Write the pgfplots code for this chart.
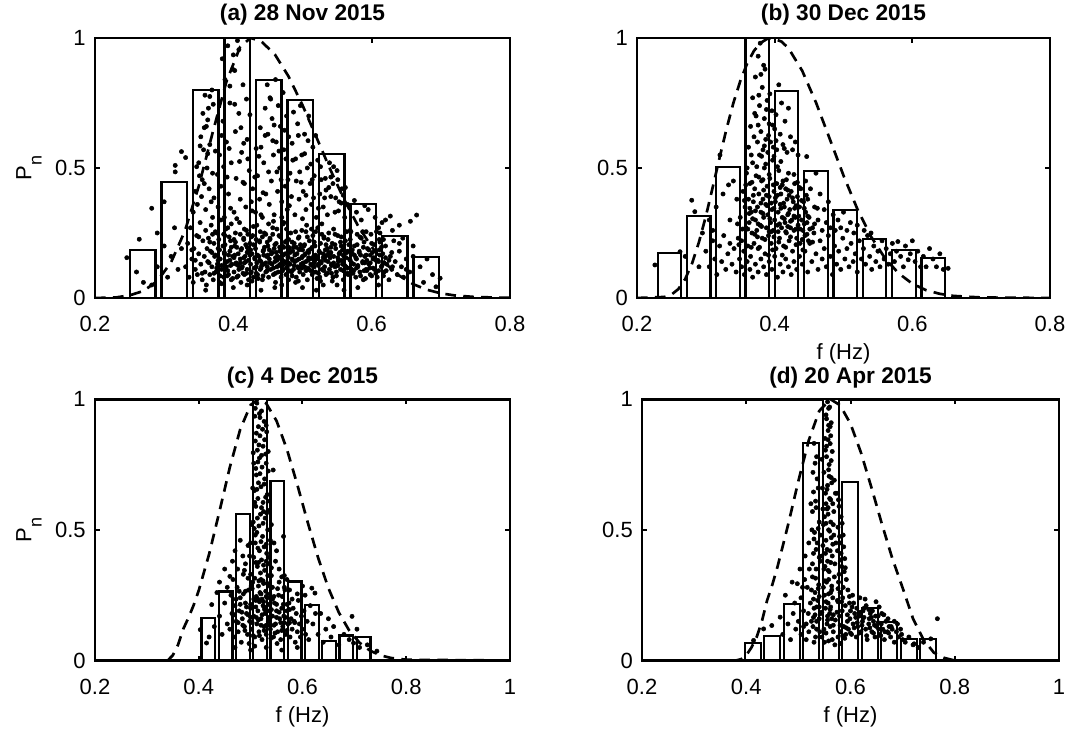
\documentclass[border=0pt]{standalone}
\usepackage{fontspec}
\setmainfont{Liberation Sans}
\usepackage{pgfplots}
\pgfplotsset{compat=1.18}
\pgfplotsset{
  myax/.style={
    scale only axis, anchor=south west,
    xmin=0.2, ymin=0, ymax=1,
    ytick={0,0.5,1}, yticklabels={0,0.5,1},
    tick align=inside, major tick length=3.5pt,
    axis line style={line width=2pt},
    every tick/.style={black, line width=1.5pt},
    tick label style={font=\fontsize{16.5}{18}\selectfont},
    xticklabel style={anchor=base, yshift=-25.5pt, inner sep=0pt},
    yticklabel style={anchor=east, xshift=-6.75pt, inner sep=0pt},
    every axis title/.style={font=\bfseries\fontsize{17}{19}\selectfont, at={(axis description cs:0.5,1)}, anchor=base, yshift=13pt, inner sep=0pt},
    every axis y label/.style={font=\fontsize{16.5}{18}\selectfont, at={(axis description cs:-0.159,0.5)}, anchor=center, rotate=90},
    every axis x label/.style={font=\fontsize{16.5}{18}\selectfont, at={(axis description cs:0.5,-0.215)}, anchor=center, inner sep=0pt},
  },
  bars/.style={ybar, bar shift=0pt, fill=white, draw=black, line width=1.7pt},
  dots/.style={only marks, mark=*, mark size=1.6pt, mark options={fill=black, draw=none}},
  spec/.style={black, line width=2pt, dash pattern=on 8pt off 5.5pt},
}
\newcommand{\Pn}{P\raisebox{-7.7pt}{\fontsize{13.5}{14}\selectfont n}}
\begin{document}
\begin{tikzpicture}
\path[use as bounding box] (0,0) rectangle (813.75pt,550.5pt);
% ---------------- (a)
\begin{axis}[myax, at={(71.25pt,327pt)}, width=311.25pt, height=195pt, xmax=0.8,
  xtick={0.2,0.4,0.6,0.8}, xticklabels={0.2,0.4,0.6,0.8},
  title={(a) 28 Nov 2015}, ylabel={\Pn}]
\addplot[bars, bar width=0.037] coordinates {(0.269,0.185)(0.3146,0.447)(0.3601,0.80)(0.4057,1.0)(0.4512,0.838)(0.4968,0.762)(0.5423,0.554)(0.5879,0.3615)(0.6334,0.238)(0.679,0.1565)};
\addplot[dots] coordinates {
(.331,.12)(.334,.21)(.336,.08)(.338,.27)(.340,.15)(.342,.06)(.343,.19)(.345,.11)(.347,.24)(.348,.09)(.350,.17)(.352,.29)(.353,.13)(.355,.07)(.356,.22)(.358,.16)(.359,.10)(.360,.26)(.361,.05)(.362,.19)
(.363,.14)(.364,.23)(.366,.09)(.367,.18)(.368,.28)(.369,.12)(.371,.07)(.372,.21)(.373,.16)(.375,.10)(.376,.25)(.377,.13)(.378,.19)(.380,.06)(.381,.15)(.382,.30)(.383,.11)(.385,.20)(.386,.08)(.387,.17)(.388,.24)(.390,.12)(.391,.14)(.392,.27)(.393,.09)(.395,.18)(.396,.22)(.397,.07)(.398,.13)(.399,.16)
(.401,.10)(.402,.20)(.403,.25)(.404,.13)(.405,.08)(.407,.17)(.408,.11)(.409,.29)(.410,.15)(.411,.06)(.412,.19)(.413,.12)(.415,.23)(.416,.09)(.417,.16)(.418,.14)(.419,.26)(.420,.11)(.421,.18)(.422,.07)(.424,.21)(.425,.13)(.426,.10)(.427,.17)(.428,.24)(.429,.08)(.431,.15)(.432,.19)(.433,.12)(.434,.28)(.435,.09)(.437,.16)(.438,.22)(.439,.11)(.440,.14)(.442,.07)(.443,.18)(.444,.13)(.445,.25)(.447,.10)
(.448,.16)(.449,.12)(.450,.20)(.451,.08)(.452,.15)(.453,.23)(.454,.11)(.455,.17)(.456,.13)(.457,.27)(.458,.09)(.459,.19)(.460,.14)(.461,.06)(.462,.21)(.463,.12)(.464,.16)(.465,.10)(.466,.24)(.467,.18)(.468,.13)(.469,.08)(.470,.15)(.471,.20)(.472,.11)(.473,.29)(.474,.14)(.475,.17)(.476,.09)(.477,.22)(.478,.12)(.479,.16)(.480,.07)(.481,.19)(.482,.13)(.483,.25)(.484,.10)(.485,.15)(.486,.18)(.487,.11)(.488,.21)(.489,.14)(.491,.08)(.492,.17)(.493,.12)
(.494,.23)(.495,.15)(.496,.10)(.497,.19)(.498,.13)(.499,.26)(.500,.16)(.501,.09)(.502,.20)(.503,.12)(.504,.17)(.505,.14)(.506,.28)(.507,.07)(.508,.18)(.509,.11)(.510,.22)(.511,.15)(.512,.13)(.513,.19)(.514,.09)(.515,.24)(.516,.16)(.517,.12)(.518,.20)(.519,.10)(.520,.15)(.522,.27)(.523,.13)(.524,.18)(.525,.08)(.526,.21)(.527,.14)(.528,.11)(.530,.17)(.531,.23)(.532,.12)(.533,.16)(.534,.09)(.536,.19)(.537,.14)(.538,.25)(.539,.11)(.540,.17)(.542,.13)
(.543,.21)(.544,.08)(.545,.16)(.547,.12)(.548,.19)(.549,.10)(.551,.24)(.552,.14)(.553,.17)(.555,.11)(.556,.20)(.558,.13)(.559,.07)(.560,.16)(.562,.22)(.563,.12)(.565,.18)(.566,.09)(.568,.15)(.569,.26)(.571,.11)(.572,.17)(.574,.13)(.575,.20)(.577,.08)(.578,.15)(.580,.12)(.582,.18)(.583,.10)(.585,.23)(.587,.14)(.588,.07)(.590,.16)(.592,.11)(.594,.19)
(.596,.13)(.598,.09)(.600,.21)(.602,.15)(.604,.11)(.606,.18)(.608,.08)(.610,.14)(.612,.25)(.614,.12)(.616,.17)(.618,.10)(.620,.20)(.622,.13)(.625,.07)(.627,.16)(.629,.11)(.632,.22)(.634,.14)(.637,.09)(.640,.18)(.643,.12)(.646,.08)(.650,.15)(.655,.10)
(.372,.095)(.418,.205)(.463,.145)(.507,.235)(.551,.125)(.596,.185)(.389,.265)(.436,.075)(.482,.175)(.528,.285)(.574,.105)(.611,.225)(.401,.155)(.447,.245)(.494,.065)(.541,.195)(.587,.135)(.366,.215)(.412,.115)(.458,.295)(.503,.165)(.549,.085)(.592,.255)(.378,.145)(.425,.185)(.471,.105)(.517,.215)(.563,.155)(.606,.095)(.394,.235)(.441,.125)(.487,.195)(.533,.145)(.579,.245)(.383,.055)(.429,.275)(.475,.135)(.521,.075)(.567,.205)(.612,.165)(.407,.085)(.453,.225)(.499,.115)(.545,.265)(.591,.075)(.369,.175)(.415,.225)(.461,.095)(.509,.155)(.556,.235)(.602,.115)(.397,.195)(.444,.165)(.49,.255)(.536,.095)(.582,.175)(.376,.115)(.422,.145)(.468,.235)(.514,.195)(.559,.105)(.604,.205)(.386,.245)(.433,.095)(.479,.155)(.525,.175)(.571,.135)(.617,.085)(.404,.135)(.451,.285)(.497,.205)(.543,.065)(.589,.215)(.38,.185)(.427,.065)(.473,.195)(.519,.255)(.565,.095)(.609,.145)(.392,.105)(.438,.215)(.485,.085)(.531,.235)(.577,.155)(.374,.255)(.42,.175)(.466,.125)(.512,.105)(.558,.185)(.599,.245)(.41,.245)(.456,.175)(.501,.135)(.547,.205)(.593,.105)(.365,.135)(.431,.155)(.477,.265)(.523,.125)(.569,.225)(.614,.195)(.399,.075)(.445,.195)(.492,.145)(.538,.175)(.584,.085)(.388,.205)(.434,.135)(.48,.225)(.526,.065)(.572,.185)(.618,.135)(.414,.095)(.46,.205)(.505,.255)(.552,.145)(.598,.165)(.37,.245)(.416,.135)(.462,.175)(.508,.115)(.554,.175)(.6,.085)(.395,.145)(.442,.235)(.488,.125)(.534,.205)(.58,.125)(.381,.085)(.426,.235)(.472,.165)(.518,.145)(.564,.255)(.61,.105)(.403,.215)(.449,.105)(.495,.185)(.542,.125)(.588,.195)(.62,.155)(.63,.12)(.64,.21)(.65,.11)(.66,.16)(.345,.145)(.35,.235)(.355,.095)(.34,.185)
(.383,.125)(.397,.285)(.411,.185)(.425,.095)(.439,.255)(.453,.135)(.467,.195)(.481,.105)(.495,.235)(.509,.175)(.523,.095)(.537,.225)(.551,.155)(.565,.115)(.579,.205)(.593,.145)(.607,.255)(.621,.105)
(.387,.175)(.401,.225)(.415,.155)(.429,.205)(.443,.085)(.457,.245)(.471,.125)(.485,.215)(.499,.155)(.513,.265)(.527,.135)(.541,.175)(.555,.215)(.569,.145)(.583,.235)(.597,.115)(.611,.185)(.625,.145)
(.374,.165)(.388,.135)(.402,.165)(.416,.265)(.43,.115)(.444,.185)(.458,.115)(.472,.285)(.486,.145)(.5,.185)(.514,.125)(.528,.245)(.542,.095)(.556,.145)(.57,.255)(.584,.165)(.598,.135)(.612,.215)
(.379,.225)(.393,.165)(.407,.125)(.421,.245)(.435,.165)(.449,.215)(.463,.265)(.477,.115)(.491,.195)(.505,.105)(.519,.165)(.533,.185)(.547,.245)(.561,.125)(.575,.165)(.589,.105)(.603,.155)(.617,.225)
(.391,.085)(.405,.195)(.419,.095)(.433,.225)(.447,.135)(.461,.155)(.475,.215)(.489,.165)(.503,.205)(.517,.135)(.531,.105)(.545,.135)(.559,.165)(.573,.095)(.587,.255)(.601,.175)(.615,.125)(.629,.175)
(.396,.125)(.41,.135)(.424,.165)(.438,.145)(.452,.185)(.466,.155)(.48,.135)(.494,.115)(.508,.145)(.522,.155)(.536,.165)(.55,.125)(.564,.175)(.578,.115)(.592,.165)(.606,.145)(.42,.195)(.45,.165)(.48,.195)(.51,.185)(.54,.155)(.57,.185)(.44,.115)(.47,.145)(.5,.125)(.53,.155)(.56,.105)(.59,.135)
(.342,.33)(.345,.41)(.348,.36)(.350,.52)(.351,.47)(.353,.62)(.354,.39)(.356,.71)(.357,.57)(.358,.44)(.359,.78)(.360,.34)(.361,.66)(.362,.50)(.364,.73)(.365,.42)(.366,.59)(.368,.37)(.369,.80)(.370,.48)
(.378,.35)(.380,.55)(.382,.43)(.384,.92)(.385,.68)(.387,.31)(.388,.84)(.390,.60)(.392,.97)(.393,.40)(.395,.75)(.397,.52)(.399,.88)(.401,.33)(.403,.64)(.404,.46)(.406,.99)(.408,.71)(.410,.38)(.412,.56)(.414,.82)(.416,.44)(.418,.35)(.420,.61)(.423,.49)(.426,.37)(.428,.42)
(.432,.33)(.435,.47)(.438,.38)(.440,.58)(.442,.31)(.444,.52)(.446,.73)(.447,.40)(.449,.82)(.450,.63)(.452,.36)(.453,.77)(.455,.45)(.456,.69)(.458,.55)(.459,.32)(.461,.84)(.462,.60)(.464,.41)(.465,.74)(.467,.50)(.468,.66)(.470,.37)(.472,.79)(.473,.57)(.475,.43)(.477,.70)(.478,.34)(.480,.62)(.482,.48)(.484,.39)(.486,.53)
(.489,.32)(.491,.45)(.493,.67)(.495,.38)(.497,.74)(.499,.55)(.501,.41)(.503,.63)(.505,.34)(.507,.50)(.509,.70)(.511,.44)(.513,.36)(.515,.58)(.517,.47)(.520,.31)(.522,.53)(.525,.40)
(.530,.35)(.533,.46)(.536,.32)(.539,.52)(.541,.39)(.544,.44)(.547,.33)(.550,.49)(.553,.37)(.557,.42)(.561,.31)(.565,.36)(.578,.33)(.585,.30)(.595,.34)(.605,.31)(.615,.29)
(.355,.455)(.372,.385)(.391,.465)(.409,.525)(.427,.335)(.443,.405)(.463,.485)(.481,.355)(.498,.445)(.516,.385)(.534,.415)(.552,.335)(.363,.555)(.383,.625)(.402,.745)(.421,.535)(.439,.655)(.457,.605)(.476,.535)(.494,.625)(.512,.515)(.527,.455)(.548,.385)(.358,.655)(.377,.475)(.396,.345)(.414,.445)(.433,.575)(.451,.485)(.469,.455)(.487,.715)(.505,.395)(.523,.345)(.541,.465)(.559,.395)(.37,.31)(.405,.305)(.44,.32)(.47,.31)(.5,.305)
(.347,.505)(.352,.585)(.363,.685)(.371,.745)(.366,.775)(.374,.565)(.386,.505)(.394,.575)(.402,.875)(.411,.655)(.419,.765)(.4,.935)(.395,.815)(.408,.955)(.415,.595)(.424,.705)(.431,.465)(.437,.545)(.446,.625)(.454,.765)(.459,.665)(.466,.565)(.474,.645)(.479,.455)(.485,.595)(.49,.535)(.496,.485)(.503,.555)(.508,.605)(.514,.455)(.519,.625)(.526,.505)(.532,.385)(.538,.425)(.545,.505)(.551,.455)(.556,.365)(.562,.425)(.575,.375)(.59,.355)
(.246,.155)(.264,.226)(.282,.345)(.26,.10)(.282,.05)(.325,.563)(.316,.51)(.316,.485)(.331,.54)(.27,.06)(.29,.12)(.30,.20)(.305,.08)(.31,.16)(.315,.27)(.32,.11)(.325,.19)(.3,.37)(.29,.25)
(.665,.319)(.656,.295)(.64,.28)(.627,.315)(.699,.076)(.693,.043)(.688,.09)(.67,.12)(.675,.06)(.66,.20)(.68,.15)(.645,.23)(.63,.26)(.61,.27)(.62,.30)
(.36,.03)(.40,.04)(.44,.03)(.47,.05)(.50,.04)(.52,.03)(.55,.05)(.58,.04)(.61,.05)(.42,.05)(.46,.04)(.49,.06)(.53,.05)(.56,.03)
};
\addplot[spec] coordinates {(0.20,0)(0.23,0.002)(0.25,0.0101)(0.27,0.0271)(0.29,0.0648)(0.31,0.1373)(0.33,0.258)(0.35,0.4297)(0.37,0.635)(0.39,0.832)(0.41,0.9668)(0.425,1)(0.44,0.988)(0.46,0.937)(0.48,0.8515)(0.50,0.7417)(0.52,0.619)(0.54,0.4952)(0.56,0.3797)(0.58,0.279)(0.60,0.1965)(0.62,0.1326)(0.64,0.0858)(0.66,0.0532)(0.68,0.0316)(0.70,0.018)(0.72,0.0098)(0.75,0.0037)(0.8,0.0005)};
\end{axis}
% ---------------- (b)
\begin{axis}[myax, at={(477.75pt,327pt)}, width=309.75pt, height=195pt, xmax=0.8,
  xtick={0.2,0.4,0.6,0.8}, xticklabels={0.2,0.4,0.6,0.8},
  title={(b) 30 Dec 2015}, xlabel={f (Hz)}]
\addplot[bars, bar width=0.034] coordinates {(0.247,0.172)(0.2896,0.315)(0.3322,0.505)(0.3748,1.0)(0.4174,0.796)(0.46,0.488)(0.5026,0.338)(0.5452,0.227)(0.5878,0.185)(0.6304,0.153)};
\addplot[dots] coordinates {
(.350,.31)(.352,.22)(.354,.41)(.355,.18)(.357,.35)(.358,.27)(.359,.48)(.361,.20)(.362,.38)(.363,.29)(.364,.44)(.365,.16)(.366,.33)(.367,.25)(.368,.52)(.369,.37)(.370,.21)(.371,.42)(.372,.30)(.373,.47)(.374,.26)(.375,.35)(.376,.19)(.377,.40)(.378,.55)(.379,.28)(.380,.33)(.381,.45)(.382,.23)(.383,.38)(.384,.31)(.385,.50)(.386,.17)(.387,.36)(.388,.27)(.389,.43)(.390,.32)(.391,.24)(.392,.39)(.393,.46)(.394,.29)(.395,.21)(.396,.34)(.397,.53)(.398,.26)(.399,.41)(.400,.30)(.401,.37)(.402,.19)(.403,.44)(.404,.28)(.405,.33)(.406,.49)(.407,.23)(.408,.36)(.409,.40)(.410,.27)(.411,.31)(.412,.45)(.413,.20)(.414,.35)(.415,.29)(.416,.42)(.417,.25)(.418,.38)(.419,.32)(.420,.48)(.421,.22)(.422,.34)(.423,.27)(.424,.41)(.425,.30)(.426,.18)(.427,.37)(.428,.26)(.429,.44)(.430,.31)(.432,.23)(.433,.39)(.434,.28)(.436,.35)(.437,.21)(.438,.42)(.439,.30)(.441,.26)(.442,.37)(.444,.24)(.445,.33)(.447,.29)(.449,.22)
(.372,.335)(.395,.255)(.417,.455)(.384,.415)(.406,.215)(.429,.345)(.361,.265)(.392,.475)(.414,.305)(.437,.265)(.378,.195)(.401,.385)(.423,.235)(.446,.395)(.367,.445)(.389,.355)(.411,.165)(.433,.445)(.356,.375)(.381,.275)(.404,.505)(.426,.385)(.448,.315)(.374,.505)(.397,.185)(.419,.275)(.441,.185)(.363,.325)(.386,.225)(.408,.425)(.431,.205)(.353,.265)(.377,.465)(.399,.345)(.421,.395)(.443,.345)(.369,.395)(.391,.165)(.413,.365)(.436,.425)(.358,.435)(.383,.325)(.405,.255)(.428,.475)(.451,.265)(.375,.235)(.398,.435)(.42,.325)(.387,.515)(.409,.345)(.431,.265)(.366,.195)(.393,.305)(.416,.195)(.439,.375)(.346,.285)(.348,.205)(.455,.215)(.458,.285)(.462,.345)
(.364,.345)(.376,.285)(.388,.395)(.399,.235)(.411,.435)(.423,.295)(.435,.315)(.447,.245)(.371,.245)(.383,.455)(.395,.365)(.407,.285)(.419,.415)(.431,.355)(.443,.285)(.368,.305)(.38,.365)(.392,.255)(.404,.395)(.416,.255)(.428,.315)(.44,.225)(.385,.585)(.391,.625)(.397,.665)(.402,.705)(.388,.725)(.381,.545)(.376,.665)(.393,.785)(.399,.545)(.409,.525)(.414,.575)(.402,.605)(.384,.895)(.38,.86)(.377,.78)(.371,.71)(.366,.55)(.36,.5)
(.362,.58)(.365,.66)(.368,.77)(.370,.62)(.372,.85)(.373,.70)(.375,.60)(.376,.93)(.378,.74)(.379,.98)(.380,.64)(.382,.81)(.383,.57)(.385,.69)(.386,.88)(.387,.61)(.389,.76)(.390,.56)(.392,.67)(.394,.60)(.396,.72)(.398,.58)(.400,.65)(.403,.57)(.406,.82)(.408,.63)(.410,.75)(.412,.59)(.415,.68)(.418,.56)(.420,.73)(.423,.62)(.426,.57)(.430,.60)(.434,.55)(.4465,.544)(.333,.435)(.3205,.55)
(.300,.18)(.305,.12)(.310,.22)(.313,.15)(.316,.09)(.320,.20)(.323,.14)(.326,.24)(.329,.11)(.332,.17)(.335,.21)(.338,.13)(.341,.19)(.344,.10)(.347,.23)(.349,.15)(.352,.12)(.356,.09)(.360,.14)(.364,.11)(.368,.08)(.372,.13)(.376,.10)(.380,.15)(.384,.12)(.388,.09)(.392,.14)(.396,.11)(.400,.16)(.404,.08)(.408,.13)(.412,.10)(.416,.15)(.420,.12)(.424,.09)(.428,.14)(.432,.11)(.436,.16)(.440,.13)(.444,.18)(.448,.10)(.451,.21)(.454,.14)(.457,.25)(.460,.17)(.463,.11)(.466,.22)(.469,.15)(.472,.19)(.475,.12)(.478,.24)(.481,.16)(.484,.09)(.487,.20)(.490,.13)(.493,.18)(.496,.11)(.499,.23)(.502,.15)(.505,.19)(.508,.12)(.511,.21)(.514,.14)(.517,.17)(.520,.10)(.523,.22)(.526,.15)(.529,.19)(.532,.13)(.535,.24)(.538,.16)(.541,.11)(.544,.20)(.547,.14)(.550,.18)(.553,.12)(.556,.22)(.559,.15)(.562,.19)(.565,.13)(.568,.17)(.571,.21)(.574,.14)(.577,.18)(.579,.217)(.583,.16)(.587,.12)(.590,.20)(.594,.147)(.597,.17)(.600,.22)(.604,.14)(.608,.18)(.612,.12)(.616,.16)(.620,.12)(.625,.19)(.630,.15)(.635,.12)(.640,.17)(.645,.11)(.652,.114)
(.445,.45)(.448,.38)(.450,.31)(.452,.42)(.455,.27)(.458,.35)(.460,.48)(.463,.30)(.466,.40)(.469,.26)(.472,.34)(.475,.29)(.478,.37)(.481,.27)(.485,.32)(.488,.26)(.492,.30)(.496,.27)(.500,.33)(.505,.26)(.510,.29)(.515,.25)(.520,.28)(.530,.26)(.540,.25)
(.226,.127)(.2625,.178)(.2795,.376)(.284,.332)(.27,.16)(.29,.12)(.295,.25)(.305,.30)(.315,.35)(.325,.40)(.31,.26)(.335,.30)(.34,.45)(.345,.38)
};
\addplot[spec] coordinates {(0.2,0)(0.24,0.004)(0.25,0.013)(0.26,0.034)(0.27,0.073)(0.28,0.133)(0.29,0.215)(0.30,0.314)(0.31,0.426)(0.32,0.540)(0.33,0.650)(0.34,0.750)(0.35,0.834)(0.36,0.902)(0.37,0.951)(0.38,0.982)(0.39,0.998)(0.396,1)(0.41,0.986)(0.42,0.961)(0.44,0.874)(0.46,0.752)(0.48,0.612)(0.50,0.471)(0.52,0.343)(0.54,0.236)(0.56,0.154)(0.58,0.095)(0.60,0.055)(0.62,0.030)(0.64,0.016)(0.66,0.008)(0.70,0.002)(0.8,0)};
\end{axis}
% ---------------- (c)
\begin{axis}[myax, at={(71.25pt,55.1pt)}, width=311.25pt, height=196pt, xmax=1,
  xtick={0.2,0.4,0.6,0.8,1}, xticklabels={0.2,0.4,0.6,0.8,1},
  title={(c) 4 Dec 2015}, ylabel={\Pn}, xlabel={f (Hz)}, title style={yshift=-1pt}]
\addplot[bars, bar width=0.0266] coordinates {(0.4185,0.163)(0.4518,0.2645)(0.485,0.56)(0.5183,1.0)(0.5516,0.688)(0.5849,0.3027)(0.6181,0.2137)(0.6514,0.0738)(0.6847,0.0954)(0.718,0.0903)};
\addplot[dots] coordinates {
(.512,.985)(.521,.955)(.508,.935)(.526,.915)(.515,.895)(.531,.875)(.518,.86)(.509,.84)(.524,.82)(.513,.805)(.529,.79)(.517,.775)(.506,.755)(.522,.74)(.534,.725)(.511,.71)(.527,.695)(.515,.68)(.52,.665)(.507,.65)(.532,.635)(.514,.62)(.524,.605)(.51,.59)(.536,.575)(.519,.56)(.528,.545)(.505,.53)(.516,.515)(.533,.5)(.512,.49)(.523,.475)(.538,.46)(.509,.45)(.526,.435)(.517,.42)(.531,.41)(.506,.395)(.521,.385)(.535,.37)(.513,.36)(.527,.345)(.519,.335)(.54,.325)(.508,.315)(.524,.305)(.532,.295)(.515,.285)(.503,.275)(.529,.265)(.537,.255)(.511,.245)(.522,.235)(.517,.225)(.534,.215)(.526,.205)(.5435,.729)(.536,.61)(.540,.52)(.534,.80)(.530,.90)(.504,.66)(.502,.52)(.500,.45)(.498,.40)(.545,.45)(.548,.38)(.550,.42)(.5635,.475)(.555,.35)(.518,.93)(.514,.76)(.525,.57)(.509,.48)(.52,.31)(.53,.38)(.542,.28)(.5,.33)
(.509,.965)(.517,.945)(.523,.885)(.511,.87)(.527,.845)(.516,.825)(.505,.795)(.521,.785)(.53,.755)(.51,.735)(.518,.715)(.526,.675)(.512,.655)(.529,.625)(.508,.605)(.521,.585)(.531,.565)(.513,.545)(.524,.525)(.507,.505)(.52,.455)(.53,.445)(.514,.43)(.534,.395)(.51,.375)(.525,.365)(.516,.305)(.536,.285)(.506,.235)(.53,.245)
(.460,.12)(.462,.25)(.464,.18)(.466,.31)(.468,.09)(.470,.21)(.472,.15)(.474,.28)(.476,.11)(.478,.19)(.480,.24)(.482,.07)(.484,.16)(.486,.33)(.488,.13)(.490,.22)(.492,.18)(.494,.10)(.496,.27)(.498,.15)(.500,.20)(.502,.12)(.504,.30)(.506,.17)(.508,.09)(.510,.23)(.512,.14)(.514,.19)(.516,.11)(.518,.26)(.520,.16)(.522,.08)(.524,.21)(.526,.13)(.528,.18)(.530,.10)(.532,.24)(.534,.15)(.536,.19)(.538,.12)(.540,.28)(.542,.17)(.544,.09)(.546,.22)(.548,.14)(.550,.19)(.552,.11)(.554,.25)(.556,.16)(.558,.08)(.560,.20)(.562,.13)(.564,.17)(.566,.27)(.568,.10)(.570,.19)(.572,.14)(.574,.22)(.576,.09)(.578,.16)(.580,.12)(.582,.20)(.584,.15)(.586,.07)(.588,.18)(.590,.11)(.592,.23)(.594,.14)(.596,.09)(.598,.17)(.600,.12)(.603,.19)(.606,.10)(.609,.15)(.612,.08)
(.478,.265)(.503,.145)(.527,.195)(.552,.275)(.489,.115)(.514,.235)(.539,.085)(.563,.215)(.495,.315)(.52,.135)(.545,.245)(.57,.115)(.483,.185)(.508,.055)(.533,.325)(.558,.145)(.472,.235)(.497,.065)(.522,.175)(.547,.105)(.575,.195)(.486,.255)(.511,.165)(.536,.135)(.561,.245)(.492,.205)(.517,.095)(.542,.235)(.567,.165)(.476,.145)(.501,.285)(.526,.115)(.551,.065)(.58,.235)(.5,.215)(.525,.295)(.55,.165)(.585,.145)(.469,.175)(.488,.345)(.515,.375)(.54,.355)(.565,.325)(.59,.255)(.6,.285)
(.485,.135)(.51,.205)(.535,.165)(.56,.115)(.495,.175)(.52,.255)(.545,.135)(.57,.215)(.48,.215)(.505,.095)(.53,.135)(.555,.185)(.49,.265)(.515,.155)(.54,.195)(.565,.145)(.5,.165)(.525,.225)(.55,.215)(.575,.145)
(.460,.322)(.465,.38)(.470,.42)(.475,.35)(.480,.46)(.485,.40)(.490,.37)(.495,.44)(.555,.30)(.560,.32)(.565,.28)(.570,.31)(.575,.27)
(.415,.067)(.425,.214)(.6955,.169)(.618,.277)(.624,.258)(.403,.118)(.6985,.067)(.7434,.036)(.43,.13)(.44,.17)(.445,.10)(.45,.22)(.455,.14)(.42,.09)(.435,.26)(.44,.30)(.45,.35)(.455,.28)(.62,.14)(.63,.10)(.635,.18)(.64,.07)(.645,.12)(.65,.16)(.655,.09)(.66,.13)(.67,.06)(.68,.10)(.69,.08)(.705,.12)(.71,.05)(.725,.06)(.615,.21)(.625,.18)(.605,.25)
(.47,.05)(.50,.04)(.53,.05)(.56,.04)(.59,.05)
};
\addplot[spec] coordinates {(0.2,0)(0.34,0)(0.35,0.02)(0.36,0.06)(0.37,0.12)(0.38,0.163)(0.39,0.211)(0.40,0.268)(0.42,0.407)(0.44,0.571)(0.46,0.740)(0.48,0.885)(0.50,0.978)(0.515,1)(0.53,0.984)(0.55,0.917)(0.57,0.808)(0.59,0.673)(0.61,0.529)(0.63,0.394)(0.65,0.277)(0.67,0.184)(0.69,0.115)(0.71,0.068)(0.73,0.038)(0.75,0.020)(0.77,0.010)(0.80,0.003)(1.0,0)};
\end{axis}
% ---------------- (d)
\begin{axis}[myax, at={(481.5pt,55.1pt)}, width=312.75pt, height=196pt, xmax=1,
  xtick={0.2,0.4,0.6,0.8,1}, xticklabels={0.2,0.4,0.6,0.8,1},
  title={(d) 20 Apr 2015}, xlabel={f (Hz)}, title style={yshift=-1pt}]
\addplot[bars, bar width=0.031] coordinates {(0.4125,0.068)(0.4499,0.093)(0.4873,0.215)(0.5247,0.8336)(0.5621,1.0)(0.5995,0.684)(0.6369,0.202)(0.6743,0.147)(0.7117,0.083)(0.7491,0.083)};
\addplot[dots] coordinates {
(.556,.99)(.560,.97)(.553,.94)(.563,.91)(.557,.88)(.551,.85)(.561,.83)(.565,.80)(.554,.78)(.559,.75)(.549,.72)(.563,.70)(.556,.67)(.552,.64)(.560,.62)(.566,.60)(.555,.58)(.550,.55)(.562,.53)(.558,.50)(.568,.48)(.553,.46)(.547,.44)(.561,.42)(.565,.40)(.556,.38)(.551,.36)(.559,.34)(.569,.32)(.554,.30)(.548,.28)(.562,.26)(.566,.24)(.557,.22)(.552,.20)(.560,.18)(.564,.16)(.555,.14)(.549,.12)(.567,.11)(.558,.90)(.562,.86)(.554,.82)(.558,.73)(.564,.68)(.553,.60)(.557,.56)(.563,.47)(.552,.41)(.558,.31)(.564,.27)(.550,.25)(.556,.17)(.561,.13)(.548,.52)(.546,.66)(.545,.77)(.568,.57)(.570,.37)(.571,.64)
(.558,.965)(.554,.925)(.561,.895)(.557,.845)(.552,.805)(.563,.765)(.559,.705)(.555,.655)(.562,.615)(.557,.585)(.553,.525)(.56,.495)(.566,.445)(.555,.425)(.562,.375)(.557,.345)(.551,.305)(.564,.285)(.558,.255)(.553,.225)(.561,.195)(.567,.175)(.556,.155)(.549,.35)(.545,.4)(.543,.48)(.547,.58)(.567,.52)(.572,.45)(.569,.69)
(.530,.831)(.535,.78)(.528,.72)(.538,.66)(.533,.61)(.527,.57)(.540,.53)(.531,.49)(.536,.45)(.529,.41)(.542,.38)(.534,.35)(.527,.32)(.539,.29)(.532,.26)(.537,.23)(.530,.20)(.543,.18)(.535,.15)(.528,.13)(.541,.11)(.533,.09)(.525,.27)(.523,.22)(.521,.35)(.519,.18)(.517,.28)(.515,.14)(.498,.294)(.505,.24)(.510,.19)(.512,.31)(.520,.45)(.524,.60)(.526,.50)
(.532,.755)(.536,.695)(.529,.645)(.534,.585)(.538,.505)(.53,.465)(.534,.425)(.54,.395)(.527,.37)(.533,.315)(.538,.275)(.529,.235)(.54,.205)(.532,.175)
(.574,.64)(.578,.59)(.582,.55)(.576,.51)(.586,.48)(.580,.45)(.575,.42)(.589,.39)(.583,.36)(.578,.33)(.592,.31)(.586,.28)(.580,.26)(.575,.23)(.590,.21)(.584,.19)(.579,.17)(.594,.15)(.587,.13)(.581,.11)(.576,.09)(.591,.10)(.585,.24)(.577,.30)(.588,.34)(.582,.41)(.595,.27)(.598,.22)(.600,.19)(.604,.25)
(.577,.615)(.584,.525)(.579,.475)(.587,.435)(.581,.385)(.59,.355)(.576,.275)(.583,.225)
(.596,.12)(.599,.16)(.602,.10)(.605,.14)(.608,.18)(.611,.09)(.614,.13)(.617,.17)(.620,.11)(.623,.15)(.626,.20)(.629,.12)(.632,.08)(.635,.14)(.638,.18)(.641,.11)(.644,.15)(.647,.09)(.650,.13)(.653,.17)(.656,.10)(.659,.14)(.662,.12)(.665,.08)(.668,.15)(.671,.11)(.674,.13)(.677,.09)(.680,.12)(.684,.07)(.688,.11)(.692,.09)(.696,.12)(.700,.08)(.606,.22)(.612,.20)(.618,.24)(.624,.19)(.630,.21)(.636,.16)(.642,.19)(.648,.17)(.654,.12)(.660,.18)(.666,.11)(.672,.16)(.678,.13)(.684,.15)(.690,.14)(.698,.10)(.705,.07)(.712,.09)(.720,.06)(.722,.064)(.754,.083)(.7667,.16)(.73,.05)(.74,.07)
(.553,.105)(.571,.155)(.589,.085)(.607,.125)(.626,.165)(.644,.105)(.562,.205)(.58,.135)(.598,.245)(.617,.105)(.635,.195)(.653,.145)(.558,.075)(.576,.225)(.594,.175)(.613,.145)(.631,.095)(.649,.225)(.567,.135)(.585,.095)(.603,.205)(.622,.135)(.64,.165)(.658,.095)(.574,.185)(.592,.125)(.61,.165)(.628,.235)(.646,.135)(.664,.175)(.581,.065)(.6,.105)(.619,.185)(.637,.125)(.655,.205)(.673,.105)(.545,.185)(.54,.245)(.535,.205)(.529,.165)
(.4333,.121)(.449,.134)(.465,.166)(.414,.077)(.47,.10)(.48,.14)(.485,.08)(.49,.18)(.495,.12)(.50,.15)(.505,.10)(.51,.13)(.515,.08)(.52,.11)(.525,.15)(.53,.07)(.535,.12)(.54,.16)(.545,.09)(.55,.07)(.565,.08)(.57,.06)(.475,.25)(.488,.30)(.493,.22)(.503,.35)(.508,.28)(.513,.40)
};
\addplot[spec] coordinates {(0.2,0)(0.38,0)(0.39,0.005)(0.40,0.02)(0.41,0.05)(0.42,0.09)(0.43,0.15)(0.44,0.23)(0.45,0.29)(0.46,0.359)(0.48,0.517)(0.50,0.687)(0.52,0.843)(0.54,0.955)(0.5615,1)(0.58,0.977)(0.60,0.906)(0.62,0.796)(0.64,0.663)(0.66,0.524)(0.68,0.392)(0.70,0.278)(0.72,0.16)(0.74,0.08)(0.76,0.03)(0.78,0.01)(0.80,0)(1.0,0)};
\end{axis}
\end{tikzpicture}
\end{document}
